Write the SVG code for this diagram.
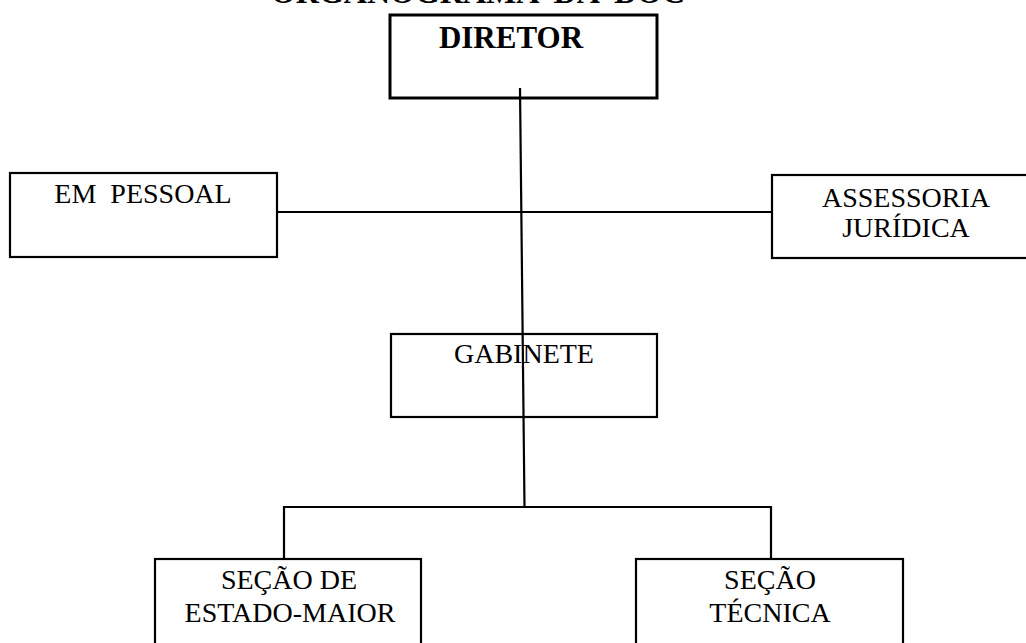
<svg xmlns="http://www.w3.org/2000/svg" width="1026" height="643" viewBox="0 0 1026 643">
<style>
.box{fill:#fff;stroke:#000;stroke-width:2.2}
.t{font-family:"Liberation Serif","Times New Roman",serif;font-size:28px;fill:#000;text-anchor:middle}
.b{font-weight:bold}
.c{stroke:#000;stroke-width:2.2;fill:none}
</style>
<rect width="1026" height="643" fill="#fff"/>
<text class="t b" x="478" y="3" style="font-size:32px" xml:space="preserve">ORGANOGRAMA  DA  DOC</text>
<g id="connectors">
<line class="c" x1="277" y1="212" x2="772" y2="212"/>
<polyline class="c" points="284,559 284,507 771,507 771,559"/>
</g>
<g id="diretor">
<rect class="box" x="390" y="15" width="267" height="83" style="stroke-width:3"/>
<text class="t b" x="511" y="48" style="font-size:31px">DIRETOR</text>
</g>
<g id="em-pessoal">
<rect class="box" x="10" y="173" width="267" height="84"/>
<text class="t" x="143" y="203" xml:space="preserve">EM  PESSOAL</text>
</g>
<g id="assessoria">
<rect class="box" x="772" y="175" width="270" height="83"/>
<text class="t" x="906" y="207">ASSESSORIA</text>
<text class="t" x="906" y="237">JURÍDICA</text>
</g>
<g id="gabinete">
<rect class="box" x="391" y="334" width="266" height="83"/>
<text class="t" x="524" y="363">GABINETE</text>
</g>
<g id="secao-em">
<rect class="box" x="155" y="559" width="266" height="100"/>
<text class="t" x="289" y="589">SEÇÃO DE</text>
<text class="t" x="290" y="622">ESTADO-MAIOR</text>
</g>
<g id="secao-tecnica">
<rect class="box" x="636" y="559" width="267" height="100"/>
<text class="t" x="770" y="589">SEÇÃO</text>
<text class="t" x="770" y="622">TÉCNICA</text>
</g>
<g id="trunk">
<line class="c" x1="520" y1="88" x2="524.5" y2="507"/>
</g>
</svg>
